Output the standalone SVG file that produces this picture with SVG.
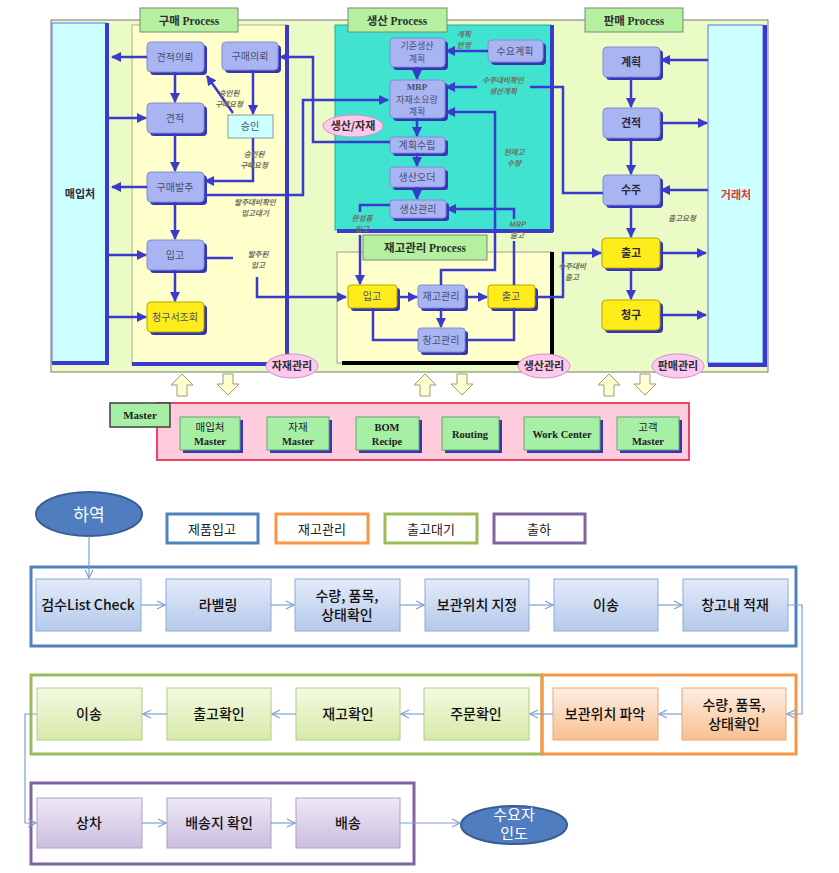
<svg xmlns="http://www.w3.org/2000/svg" width="839" height="873" viewBox="0 0 839 873">
<style>
text{font-family:"Noto Sans CJK KR","Noto Sans",sans-serif;text-anchor:middle}
.pn{fill:#a9b5f3;stroke:#7f8ed6;stroke-width:1}
.yn{fill:#ffec1a;stroke:#b5a600;stroke-width:1}
.sh{fill:#3535b5}
.t{font-size:10px;fill:#4a4f70}
.tb{font-size:11px;fill:#2a2a40;font-weight:bold}
.ser{font-family:"Liberation Serif","Noto Sans CJK KR",serif;font-weight:bold}
.lab{font-size:7.5px;font-style:italic;fill:#707060;font-weight:bold}
.c{fill:none;stroke:#3a3acc;stroke-width:2.5}
.bar{stroke:#3a3acc;stroke-width:4;fill:none}
.ell{fill:#ffc8ec;stroke:#c896c8;stroke-width:1}
.et{font-size:11px;font-weight:bold;fill:#303030}
.pl{fill:#b4f0a0;stroke:#7a8a70;stroke-width:1}
.plt{font-size:11.5px;font-weight:bold;fill:#303030}
.ms{fill:#a6f0a6;stroke:#70a070;stroke-width:1}
.mt{font-size:10.5px;fill:#202020}
.ba{fill:#ffffd0;stroke:#9a9a80;stroke-width:1}
.bn{stroke:#8eaad6;stroke-width:1}
.bt{font-size:14px;fill:#111;font-weight:500}
.bc{fill:none;stroke:#7f9fd0;stroke-width:1.2}
.lg{fill:#fff;stroke-width:3}
.lt{font-size:13px;fill:#222}
</style>
<defs>
<marker id="ab" viewBox="0 0 10 10" refX="9" refY="5" markerWidth="10" markerHeight="10" markerUnits="userSpaceOnUse" orient="auto"><path d="M0,0 L10,5 L0,10 z" fill="#3a3acc"/></marker>
<marker id="ao" viewBox="0 0 10 10" refX="9" refY="5" markerWidth="10" markerHeight="10" markerUnits="userSpaceOnUse" orient="auto"><path d="M1,1 L9,5 L1,9" fill="none" stroke="#7f9fd0" stroke-width="1.2"/></marker>
<linearGradient id="gB" x1="0" y1="0" x2="0" y2="1"><stop offset="0" stop-color="#e3ebf9"/><stop offset="1" stop-color="#b5c9ea"/></linearGradient>
<linearGradient id="gG" x1="0" y1="0" x2="0" y2="1"><stop offset="0" stop-color="#f3f9e2"/><stop offset="1" stop-color="#d7eaa9"/></linearGradient>
<linearGradient id="gO" x1="0" y1="0" x2="0" y2="1"><stop offset="0" stop-color="#fdeee2"/><stop offset="1" stop-color="#f8c08f"/></linearGradient>
<linearGradient id="gP" x1="0" y1="0" x2="0" y2="1"><stop offset="0" stop-color="#eee9f4"/><stop offset="1" stop-color="#cabde0"/></linearGradient>
</defs>

<!-- ===== TOP DIAGRAM ===== -->
<rect x="51" y="20" width="717" height="352" fill="#ebfbc6" stroke="#777" stroke-width="1"/>

<g id="buyer">
<rect x="52" y="23" width="54" height="340" fill="#ccffff" stroke="#6a6aff"/>
<path class="bar" d="M107,23 V363 H52"/>
<text x="80" y="198" class="tb">매입처</text>
</g>

<g id="purchase-area">
<rect x="132" y="25" width="155" height="340" fill="#ffffcc" stroke="#b0b090"/>
<path class="bar" d="M287,25 V365 M132,364 H270"/>
<rect x="140" y="8" width="98" height="24" class="pl"/>
<text x="189" y="25" class="plt">구매 <tspan class="ser">Process</tspan></text>
</g>

<g id="production-area">
<rect x="335" y="25" width="216" height="205" fill="#3fe3cf" stroke="#2aa89a"/>
<path class="bar" d="M552,25 V232 M337,231 H553"/>
<rect x="348" y="8" width="99" height="24" class="pl"/>
<text x="397" y="25" class="plt">생산 <tspan class="ser">Process</tspan></text>
</g>

<g id="inventory-area">
<rect x="337" y="252" width="215" height="111" fill="#ffffcc" stroke="#a0a090"/>
<path d="M552,252 V364 M342,363 H553" stroke="#000" stroke-width="4" fill="none"/>
<rect x="363" y="235" width="124" height="25" class="pl"/>
<text x="425" y="252" class="plt">재고관리 <tspan class="ser">Process</tspan></text>
</g>

<g id="sales-label">
<rect x="585" y="8" width="98" height="24" class="pl"/>
<text x="634" y="25" class="plt">판매 <tspan class="ser">Process</tspan></text>
</g>

<g id="customer">
<rect x="708" y="25" width="55" height="338" fill="#ccffff" stroke="#6a6aff"/>
<path class="bar" d="M765,25 V365 H708"/>
<text x="736" y="199" class="tb" style="fill:#e03a3a">거래처</text>
</g>

<!-- purchase nodes -->
<g id="p-quote-req"><rect x="150" y="45" width="57" height="30" rx="4" class="sh"/><rect x="147" y="42" width="57" height="30" rx="4" class="pn"/><text x="175" y="61" class="t">견적의뢰</text></g>
<g id="p-buy-req"><rect x="225" y="45" width="56" height="28" rx="4" class="sh"/><rect x="222" y="42" width="56" height="28" rx="4" class="pn"/><text x="250" y="60" class="t">구매의뢰</text></g>
<g id="p-quote"><rect x="150" y="106" width="57" height="30" rx="4" class="sh"/><rect x="147" y="103" width="57" height="30" rx="4" class="pn"/><text x="175" y="122" class="t">견적</text></g>
<g id="p-approve"><rect x="228" y="115" width="45" height="23" fill="#ccffff" stroke="#8a9aa0"/><text x="250" y="130" class="t">승인</text></g>
<g id="p-order"><rect x="150" y="175" width="57" height="30" rx="4" class="sh"/><rect x="147" y="172" width="57" height="30" rx="4" class="pn"/><text x="175" y="191" class="t">구매발주</text></g>
<g id="p-in"><rect x="150" y="243" width="57" height="30" rx="4" class="sh"/><rect x="147" y="240" width="57" height="30" rx="4" class="pn"/><text x="175" y="259" class="t">입고</text></g>
<g id="p-bill"><rect x="150" y="305" width="57" height="30" rx="4" class="sh"/><rect x="147" y="302" width="57" height="30" rx="4" class="yn"/><text x="175" y="321" class="t">청구서조회</text></g>

<!-- production nodes -->
<g id="m-mps"><rect x="393" y="41" width="55" height="29" rx="4" class="sh"/><rect x="390" y="38" width="55" height="29" rx="4" class="pn"/><text x="417" y="49" class="t" style="font-size:9px">기준생산</text><text x="417" y="62" class="t" style="font-size:9px">계획</text></g>
<g id="m-demand"><rect x="491" y="43" width="55" height="22" rx="4" class="sh"/><rect x="488" y="40" width="55" height="22" rx="4" class="pn"/><text x="515" y="55" class="t">수요계획</text></g>
<g id="m-mrp"><rect x="393" y="83" width="55" height="38" rx="4" class="sh"/><rect x="390" y="80" width="55" height="38" rx="4" class="pn"/><text x="417" y="90" class="t ser" style="font-size:9px">MRP</text><text x="417" y="103" class="t" style="font-size:9px">자재소요량</text><text x="417" y="115" class="t" style="font-size:9px">계획</text></g>
<g id="m-plan"><rect x="393" y="140" width="55" height="16" rx="3" class="sh"/><rect x="390" y="137" width="55" height="16" rx="3" class="pn"/><text x="417" y="149" class="t">계획수립</text></g>
<g id="m-po"><rect x="393" y="170" width="55" height="20" rx="3" class="sh"/><rect x="390" y="167" width="55" height="20" rx="3" class="pn"/><text x="417" y="181" class="t">생산오더</text></g>
<g id="m-mgmt"><rect x="393" y="203" width="56" height="18" rx="3" class="sh"/><rect x="390" y="200" width="56" height="18" rx="3" class="pn"/><text x="418" y="213" class="t">생산관리</text></g>

<!-- inventory nodes -->
<g id="i-in"><rect x="351" y="288" width="49" height="23" rx="3" class="sh"/><rect x="348" y="285" width="49" height="23" rx="3" class="yn"/><text x="372" y="300" class="t">입고</text></g>
<g id="i-stock"><rect x="421" y="288" width="47" height="23" rx="3" class="sh"/><rect x="418" y="285" width="47" height="23" rx="3" class="pn"/><text x="441" y="300" class="t">재고관리</text></g>
<g id="i-out"><rect x="491" y="288" width="47" height="23" rx="3" class="sh"/><rect x="488" y="285" width="47" height="23" rx="3" class="yn"/><text x="511" y="300" class="t">출고</text></g>
<g id="i-wh"><rect x="421" y="331" width="47" height="24" rx="3" class="sh"/><rect x="418" y="328" width="47" height="24" rx="3" class="pn"/><text x="441" y="344" class="t">창고관리</text></g>

<!-- sales nodes -->
<g id="s-plan"><rect x="606" y="50" width="57" height="30" rx="4" class="sh"/><rect x="603" y="47" width="57" height="30" rx="4" class="pn"/><text x="631" y="66" class="tb">계획</text></g>
<g id="s-quote"><rect x="606" y="111" width="57" height="30" rx="4" class="sh"/><rect x="603" y="108" width="57" height="30" rx="4" class="pn"/><text x="631" y="127" class="tb">견적</text></g>
<g id="s-order"><rect x="606" y="178" width="57" height="30" rx="4" class="sh"/><rect x="603" y="175" width="57" height="30" rx="4" class="pn"/><text x="631" y="194" class="tb">수주</text></g>
<g id="s-out"><rect x="605" y="241" width="58" height="30" rx="4" class="sh"/><rect x="602" y="238" width="58" height="30" rx="4" class="yn"/><text x="631" y="257" class="tb">출고</text></g>
<g id="s-bill"><rect x="605" y="303" width="58" height="30" rx="4" class="sh"/><rect x="602" y="300" width="58" height="30" rx="4" class="yn"/><text x="631" y="319" class="tb">청구</text></g>

<!-- ellipses -->
<g id="e-prodmat"><ellipse cx="353" cy="126" rx="30" ry="11" class="ell"/><text x="353" y="130" class="et">생산/자재</text></g>
<g id="e-mat"><ellipse cx="292" cy="366" rx="26" ry="12" class="ell"/><text x="292" y="370" class="et">자재관리</text></g>
<g id="e-prod"><ellipse cx="544" cy="366" rx="26" ry="12" class="ell"/><text x="544" y="370" class="et">생산관리</text></g>
<g id="e-sales"><ellipse cx="678" cy="366" rx="26" ry="12" class="ell"/><text x="678" y="370" class="et">판매관리</text></g>

<!-- top connectors -->
<g id="top-connectors">
<path class="c" d="M147,57 H112" marker-end="url(#ab)"/>
<path class="c" d="M109,118 H146" marker-end="url(#ab)"/>
<path class="c" d="M147,187 H112" marker-end="url(#ab)"/>
<path class="c" d="M109,255 H146" marker-end="url(#ab)"/>
<path class="c" d="M109,317 H146" marker-end="url(#ab)"/>
<path class="c" d="M175,72 V102" marker-end="url(#ab)"/>
<path class="c" d="M175,133 V171" marker-end="url(#ab)"/>
<path class="c" d="M175,202 V239" marker-end="url(#ab)"/>
<path class="c" d="M175,270 V301" marker-end="url(#ab)"/>
<path class="c" d="M253,70 V114" marker-end="url(#ab)"/>
<path class="c" d="M253,138 V181 H205" marker-end="url(#ab)"/>
<path class="c" d="M233,113 L207,76" marker-end="url(#ab)"/>
<path class="c" d="M204,195 H303 V100 H388" marker-end="url(#ab)"/>
<path class="c" d="M204,258 H233"/>
<path class="c" d="M257,277 V297 H346" marker-end="url(#ab)"/>
<path class="c" d="M390,142 H313 V57 H280" marker-end="url(#ab)"/>
<path class="c" d="M488,51 H446" marker-end="url(#ab)"/>
<path class="c" d="M417,67 V79" marker-end="url(#ab)"/>
<path class="c" d="M417,118 V136" marker-end="url(#ab)"/>
<path class="c" d="M417,153 V166" marker-end="url(#ab)"/>
<path class="c" d="M417,187 V199" marker-end="url(#ab)"/>
<path class="c" d="M603,193 H563 V87 H530"/>
<path class="c" d="M477,87 H446" marker-end="url(#ab)"/>
<path class="c" d="M441,285 V270 H495 V112 H446" marker-end="url(#ab)"/>
<path class="c" d="M514,285 V241"/>
<path class="c" d="M514,219 V209 H447" marker-end="url(#ab)"/>
<path class="c" d="M390,205 H360 V212"/>
<path class="c" d="M360,235 V284" marker-end="url(#ab)"/>
<path class="c" d="M397,297 H417" marker-end="url(#ab)"/>
<path class="c" d="M465,297 H487" marker-end="url(#ab)"/>
<path class="c" d="M441,308 V327" marker-end="url(#ab)"/>
<path class="c" d="M373,308 V340 H418"/>
<path class="c" d="M514,308 V340 H465"/>
<path class="c" d="M535,297 H563 V253 H601" marker-end="url(#ab)"/>
<path class="c" d="M708,60 H661" marker-end="url(#ab)"/>
<path class="c" d="M660,123 H707" marker-end="url(#ab)"/>
<path class="c" d="M708,190 H661" marker-end="url(#ab)"/>
<path class="c" d="M660,253 H706" marker-end="url(#ab)"/>
<path class="c" d="M660,315 H706" marker-end="url(#ab)"/>
<path class="c" d="M631,77 V107" marker-end="url(#ab)"/>
<path class="c" d="M631,138 V174" marker-end="url(#ab)"/>
<path class="c" d="M631,205 V237" marker-end="url(#ab)"/>
<path class="c" d="M631,268 V299" marker-end="url(#ab)"/>
<text x="229" y="96" class="lab">승인된</text><text x="229" y="107" class="lab">구매요청</text>
<text x="254" y="157" class="lab">승인된</text><text x="254" y="168" class="lab">구매요청</text>
<text x="255" y="205" class="lab">발주대비확인</text><text x="255" y="216" class="lab">입고대기</text>
<text x="258" y="257" class="lab">발주된</text><text x="258" y="268" class="lab">입고</text>
<text x="464" y="37" class="lab">계획</text><text x="464" y="48" class="lab">반영</text>
<text x="503" y="83" class="lab">수주대비확인</text><text x="503" y="94" class="lab">생산계획</text>
<text x="514" y="155" class="lab">현재고</text><text x="514" y="166" class="lab">수량</text>
<text x="517" y="227" class="lab">MRP</text><text x="517" y="238" class="lab">출고</text>
<text x="362" y="221" class="lab">완성품</text><text x="362" y="232" class="lab">입고</text>
<text x="572" y="269" class="lab">수주대비</text><text x="572" y="280" class="lab">출고</text>
<text x="682" y="221" class="lab">출고요청</text>
</g>

<!-- block arrows -->
<g id="block-arrows">
<path class="ba" d="M182,374 L193,385 H187 V396 H177 V385 H171 Z"/>
<path class="ba" d="M223,374 H233 V384 H239 L228,395 L217,384 H223 Z"/>
<path class="ba" d="M425,374 L436,385 H430 V396 H420 V385 H414 Z"/>
<path class="ba" d="M457,374 H467 V384 H473 L462,395 L451,384 H457 Z"/>
<path class="ba" d="M609,374 L620,385 H614 V396 H604 V385 H598 Z"/>
<path class="ba" d="M640,374 H650 V384 H656 L645,395 L634,384 H640 Z"/>
</g>

<!-- master -->
<g id="master-area">
<rect x="157" y="403" width="532" height="57" fill="#ffccdd" stroke="#ee4466" stroke-width="2"/>
<rect x="110" y="403" width="60" height="24" fill="#a6f0a6" stroke="#404040" stroke-width="1.5"/>
<text x="140" y="419" class="ser" style="font-size:11px;fill:#202020">Master</text>
</g>
<g id="m-buyer"><rect x="183" y="420" width="60" height="33" class="sh"/><rect x="180" y="417" width="60" height="33" class="ms"/><text x="210" y="431" class="mt">매입처</text><text x="210" y="445" class="mt ser">Master</text></g>
<g id="m-mat"><rect x="270" y="420" width="62" height="33" class="sh"/><rect x="267" y="417" width="62" height="33" class="ms"/><text x="298" y="431" class="mt">자재</text><text x="298" y="445" class="mt ser">Master</text></g>
<g id="m-bom"><rect x="359" y="420" width="63" height="33" class="sh"/><rect x="356" y="417" width="63" height="33" class="ms"/><text x="387" y="431" class="mt ser">BOM</text><text x="387" y="445" class="mt ser">Recipe</text></g>
<g id="m-routing"><rect x="445" y="420" width="57" height="33" class="sh"/><rect x="442" y="417" width="57" height="33" class="ms"/><text x="470" y="438" class="mt ser">Routing</text></g>
<g id="m-wc"><rect x="527" y="420" width="76" height="33" class="sh"/><rect x="524" y="417" width="76" height="33" class="ms"/><text x="562" y="438" class="mt ser">Work Center</text></g>
<g id="m-cust"><rect x="620" y="420" width="62" height="33" class="sh"/><rect x="617" y="417" width="62" height="33" class="ms"/><text x="648" y="431" class="mt">고객</text><text x="648" y="445" class="mt ser">Master</text></g>

<!-- ===== BOTTOM DIAGRAM ===== -->
<g id="legend">
<rect x="167" y="514" width="91" height="29" class="lg" stroke="#4f81bd"/><text x="212" y="534" class="lt">제품입고</text>
<rect x="276" y="514" width="92" height="29" class="lg" stroke="#f79646"/><text x="322" y="534" class="lt">재고관리</text>
<rect x="385" y="514" width="92" height="29" class="lg" stroke="#9bbb59"/><text x="431" y="534" class="lt">출고대기</text>
<rect x="494" y="514" width="91" height="29" class="lg" stroke="#8064a2"/><text x="539" y="534" class="lt">출하</text>
</g>

<g id="frames">
<rect x="31" y="567" width="765" height="79" fill="none" stroke="#4f81bd" stroke-width="3"/>
<rect x="31" y="675" width="511" height="79" fill="none" stroke="#9bbb59" stroke-width="3"/>
<rect x="542" y="675" width="254" height="79" fill="none" stroke="#f79646" stroke-width="3"/>
<rect x="31" y="783" width="383" height="81" fill="none" stroke="#8064a2" stroke-width="3"/>
</g>

<g id="unload"><ellipse cx="89" cy="514" rx="53" ry="22" fill="#4f7dbf" stroke="#375d96" stroke-width="2"/><text x="89" y="521" style="font-size:17px;fill:#fff">하역</text></g>

<g id="r1-1"><rect x="36" y="579" width="105" height="52" fill="url(#gB)" class="bn"/><text x="88" y="610" class="bt">검수List Check</text></g>
<g id="r1-2"><rect x="166" y="579" width="105" height="52" fill="url(#gB)" class="bn"/><text x="218" y="610" class="bt">라벨링</text></g>
<g id="r1-3"><rect x="295" y="579" width="105" height="52" fill="url(#gB)" class="bn"/><text x="347" y="601" class="bt">수량, 품목,</text><text x="347" y="620" class="bt">상태확인</text></g>
<g id="r1-4"><rect x="425" y="579" width="104" height="52" fill="url(#gB)" class="bn"/><text x="477" y="610" class="bt">보관위치 지정</text></g>
<g id="r1-5"><rect x="554" y="579" width="104" height="52" fill="url(#gB)" class="bn"/><text x="606" y="610" class="bt">이송</text></g>
<g id="r1-6"><rect x="683" y="579" width="105" height="52" fill="url(#gB)" class="bn"/><text x="735" y="610" class="bt">창고내 적재</text></g>

<g id="r2-1"><rect x="37" y="688" width="105" height="52" fill="url(#gG)" stroke="#b3cc82"/><text x="89" y="719" class="bt">이송</text></g>
<g id="r2-2"><rect x="167" y="688" width="104" height="52" fill="url(#gG)" stroke="#b3cc82"/><text x="219" y="719" class="bt">출고확인</text></g>
<g id="r2-3"><rect x="296" y="688" width="104" height="52" fill="url(#gG)" stroke="#b3cc82"/><text x="348" y="719" class="bt">재고확인</text></g>
<g id="r2-4"><rect x="424" y="688" width="105" height="52" fill="url(#gG)" stroke="#b3cc82"/><text x="476" y="719" class="bt">주문확인</text></g>
<g id="r2-5"><rect x="553" y="688" width="105" height="52" fill="url(#gO)" stroke="#e8a878"/><text x="605" y="719" class="bt">보관위치 파악</text></g>
<g id="r2-6"><rect x="682" y="688" width="104" height="52" fill="url(#gO)" stroke="#e8a878"/><text x="734" y="710" class="bt">수량, 품목,</text><text x="734" y="729" class="bt">상태확인</text></g>

<g id="r3-1"><rect x="37" y="798" width="105" height="50" fill="url(#gP)" stroke="#b0a0c8"/><text x="89" y="828" class="bt">상차</text></g>
<g id="r3-2"><rect x="167" y="798" width="104" height="50" fill="url(#gP)" stroke="#b0a0c8"/><text x="219" y="828" class="bt">배송지 확인</text></g>
<g id="r3-3"><rect x="296" y="798" width="104" height="50" fill="url(#gP)" stroke="#b0a0c8"/><text x="348" y="828" class="bt">배송</text></g>

<g id="deliver"><ellipse cx="514" cy="825" rx="53" ry="19" fill="#4f7dbf" stroke="#375d96" stroke-width="2"/><text x="514" y="820" style="font-size:15px;fill:#fff">수요자</text><text x="514" y="839" style="font-size:15px;fill:#fff">인도</text></g>

<g id="bottom-connectors">
<path class="bc" d="M89,536 V578" marker-end="url(#ao)"/>
<path class="bc" d="M141,605 H165" marker-end="url(#ao)"/>
<path class="bc" d="M271,605 H294" marker-end="url(#ao)"/>
<path class="bc" d="M400,605 H424" marker-end="url(#ao)"/>
<path class="bc" d="M529,605 H553" marker-end="url(#ao)"/>
<path class="bc" d="M658,605 H682" marker-end="url(#ao)"/>
<path class="bc" d="M788,605 H802 V714 H787" marker-end="url(#ao)"/>
<path class="bc" d="M682,714 H659" marker-end="url(#ao)"/>
<path class="bc" d="M553,714 H530" marker-end="url(#ao)"/>
<path class="bc" d="M424,714 H401" marker-end="url(#ao)"/>
<path class="bc" d="M296,714 H272" marker-end="url(#ao)"/>
<path class="bc" d="M167,714 H143" marker-end="url(#ao)"/>
<path class="bc" d="M37,714 H25 V823 H36" marker-end="url(#ao)"/>
<path class="bc" d="M142,823 H166" marker-end="url(#ao)"/>
<path class="bc" d="M271,823 H295" marker-end="url(#ao)"/>
<path class="bc" d="M400,823 H460" marker-end="url(#ao)"/>
</g>
</svg>
